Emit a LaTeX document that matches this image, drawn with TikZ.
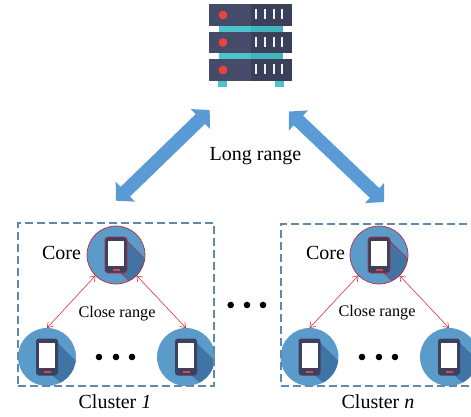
\documentclass[tikz,border=0pt]{standalone}
\usepackage{fontspec}
\setmainfont{Liberation Serif}
\usetikzlibrary{arrows.meta}
\definecolor{disc}{HTML}{5B9BC9}
\definecolor{discshade}{HTML}{3F74A5}
\definecolor{phonebody}{HTML}{3D4160}
\definecolor{phonered}{HTML}{E8443F}
\definecolor{ringred}{HTML}{C2283C}
\definecolor{linkred}{HTML}{D62630}
\definecolor{linkblue}{HTML}{5B9BD5}
\definecolor{boxblue}{HTML}{5F8AAE}
\definecolor{srvdark}{HTML}{3A3F5A}
\definecolor{srvlight}{HTML}{454B68}
\definecolor{srvteal}{HTML}{4FC3CB}
\definecolor{srvtealdark}{HTML}{45B3BD}
\tikzset{
  phonedisc/.style={circle,fill=disc,minimum size=58pt,inner sep=0pt,outer sep=0pt},
  longlink/.style={line width=13.5pt,color=linkblue,{Triangle[width=27pt,length=13pt]}-{Triangle[width=27pt,length=13pt]}},
  closelink/.style={line width=.55pt,color=linkred,{Straight Barb[length=5pt,width=7pt,line width=.55pt]}-{Straight Barb[length=5pt,width=7pt,line width=.55pt]}},
  clusterbox/.style={draw=boxblue,line width=1.1pt,dash pattern=on 8pt off 4pt},
  bigtext/.style={font=\fontsize{20}{22}\selectfont,inner sep=0pt},
  smalltext/.style={font=\fontsize{16.2}{19}\selectfont,inner sep=0pt},
  blackdot/.style={circle,fill=black,minimum size=6.6pt,inner sep=0pt}
}
% name, x, y (from the top of the picture), trim colour of the phone and ring
\newcommand{\phonedraw}[4]{%
  \node[phonedisc] (#1) at (#2,416-#3) {};
  \begin{scope}
    \clip (#2,416-#3) circle (29);
    \fill[discshade,shift={(#2,416-#3)}] (11,14) -- (42,-17) -- (30,-40) -- (5,-18) -- cycle;
    \draw[#4,line width=.7pt,shift={(#2,416-#3)}] (11,14) -- (42,-17) (5,-18) -- (16,-29);
  \end{scope}
  \begin{scope}[shift={(#2,416-#3)}]
    \fill[phonebody,draw=#4,line width=.7pt,rounded corners=3pt] (-11,18) rectangle (11,-18);
    \fill[white] (-8,14) rectangle (8,-11);
    \fill[phonered] (-3.5,-14) rectangle (3.5,-16);
  \end{scope}
  \draw[#4,line width=.7pt] (#2,416-#3) circle (29);
}
\newcommand{\phoneplain}[3]{%
  \node[phonedisc] (#1) at (#2,416-#3) {};
  \begin{scope}
    \clip (#2,416-#3) circle (29);
    \fill[discshade,shift={(#2,416-#3)}] (11,14) -- (42,-17) -- (30,-40) -- (5,-18) -- cycle;
  \end{scope}
  \begin{scope}[shift={(#2,416-#3)}]
    \fill[phonebody,rounded corners=3pt] (-11,18.5) rectangle (11,-18.5);
    \fill[white] (-8,14) rectangle (8,-11);
    \fill[phonered] (-3.5,-14) rectangle (3.5,-16);
  \end{scope}
}
\newcommand{\srvunit}[2]{% top, bottom (from the top)
  \fill[srvlight] (209,416-#1) rectangle (251,416-#2);
  \fill[srvdark] (251,416-#1) rectangle (292,416-#2);
  \fill[phonered] (223,416-#1/2-#2/2) circle (4.4);
  \foreach \bx in {256,265,273.5,282}
    \fill[white!92!srvlight] (\bx-1,416-#1-5) rectangle (\bx+1,416-#1-15);
}
\begin{document}
\begin{tikzpicture}[x=1pt,y=1pt]
\useasboundingbox (0,0) rectangle (471,416);
\clip (0,0) rectangle (471,416);

% server
\node[minimum width=83pt,minimum height=83pt,inner sep=0pt,outer sep=0pt] (server) at (250.5,416-45.5) {};
\fill[srvteal] (219,416-26) rectangle (251,416-59);
\fill[srvtealdark] (251,416-26) rectangle (283,416-59);
\fill[srvteal] (218,416-81) rectangle (227,416-87);
\fill[srvteal] (275,416-81) rectangle (284,416-87);
\srvunit{4}{26}
\srvunit{32}{53}
\srvunit{59}{81}

% long-range links
\coordinate (lla) at (209.7,416-110);
\coordinate (llb) at (116,416-200.7);
\coordinate (lra) at (289,416-111.5);
\coordinate (lrb) at (384,416-202);
\draw[longlink] (lla) -- (llb);
\draw[longlink] (lra) -- (lrb);
\node[bigtext] (long) at (255.5,416-156) {Long range};

% phones
\phonedraw{ca}{116}{255}{ringred}
\phoneplain{la}{47}{357}
\phoneplain{ra}{186}{357}
\phonedraw{cb}{379}{255}{ringred}
\phoneplain{lb}{309.5}{357}
\phoneplain{rb}{449}{357}

% cluster boxes
\node[clusterbox,minimum width=196pt,minimum height=163pt,inner sep=0pt,outer sep=0pt] (boxa) at (116,416-304.5) {};
\node[clusterbox,minimum width=210pt,minimum height=162pt,inner sep=0pt,outer sep=0pt] (boxb) at (386,416-305) {};

% close-range links
\draw[closelink] (ca.225) -- (la.90);
\draw[closelink] (ca.-45) -- (ra.90);
\draw[closelink] (cb.225) -- (lb.90);
\draw[closelink] (cb.-45) -- (rb.90);

% labels
\node[bigtext] (corea) at (61.5,416-253) {Core};
\node[bigtext] (coreb) at (325.5,416-253) {Core};
\node[smalltext] (closea) at (117,416-314) {Close range};
\node[smalltext] (closeb) at (377,416-313) {Close range};
\node[bigtext] (clustera) at (115,416-402) {Cluster \textit{1}};
\node[bigtext] (clusterb) at (378,416-402) {Cluster \textit{n}};

% ellipsis dots
\foreach \n/\dx/\dy in {a1/99/357,a2/116/357,a3/132/357,b1/362/357,b2/379/357,b3/395/357,m1/230.7/305,m2/247/305,m3/263/305}
  \node[blackdot] (dot\n) at (\dx,416-\dy) {};
\end{tikzpicture}
\end{document}
